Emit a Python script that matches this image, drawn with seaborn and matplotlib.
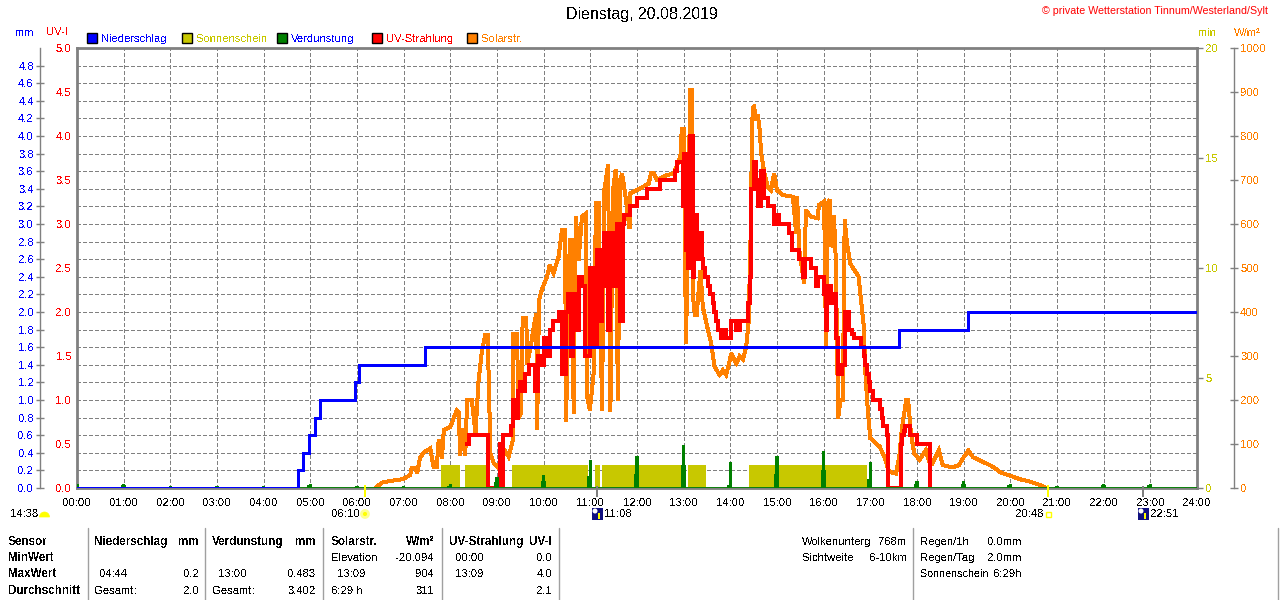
import matplotlib
matplotlib.use('Agg')
import matplotlib.pyplot as plt
from matplotlib.patches import Rectangle, Circle, Wedge
import seaborn as sns

# --- data ---
rain_t = [0, 4.74, 4.85, 4.97, 5.09, 5.2, 5.96, 6.04, 7.46, 17.62, 19.09, 24]
rain_mm = [0, 0.2, 0.4, 0.6, 0.8, 1.0, 1.2, 1.4, 1.6, 1.8, 2.0, 2.0]

sun_start = [7.79, 8.32, 9.32, 9.88, 11.09, 11.26, 13.09, 14.39]
sun_end = [8.21, 8.86, 9.87, 10.95, 11.21, 13.05, 13.48, 16.93]
sun_min = [1.05, 1.05, 1.05, 1.05, 1.05, 1.05, 1.05, 1.05]

evap_h = list(range(0, 24))
evap_mm = [0.04, 0.05, 0.02, 0.02, 0.02, 0.05, 0.02, 0.02, 0.04, 0.13, 0.15, 0.32,
           0.36, 0.483, 0.29, 0.36, 0.42, 0.29, 0.08, 0.08, 0.05, 0.02, 0.05, 0.05]
evap_low = [0.02, 0.03, 0.01, 0.01, 0.01, 0.03, 0.01, 0.01, 0.02, 0.07, 0.08, 0.14,
            0.16, 0.26, 0.03, 0.16, 0.2, 0.1, 0.04, 0.04, 0.03, 0.01, 0.03, 0.03]

uv_t = [8.36, 8.39, 8.6, 8.8, 9.07, 9.08, 9.12, 9.15, 9.3, 9.34, 9.36, 9.46, 9.5, 9.57, 9.61,
        9.68, 9.82, 9.87, 9.93, 10.0, 10.07, 10.14, 10.21, 10.32, 10.39, 10.48, 10.53, 10.59, 10.63,
        10.71, 10.75, 10.82, 10.89, 10.96, 11.0, 11.07, 11.14, 11.2, 11.25, 11.29, 11.38, 11.43, 11.5,
        11.57, 11.64, 11.7, 11.73, 11.86, 12.0, 12.21, 12.5, 12.82, 12.85, 12.94, 12.98, 13.01, 13.06,
        13.1, 13.14, 13.19, 13.23, 13.29, 13.36, 13.39, 13.42, 13.46, 13.52, 13.56, 13.62, 13.66, 13.7, 13.73,
        13.8, 13.85, 13.9,
        14.02, 14.13, 14.2, 14.34, 14.38, 14.42, 14.45, 14.5, 14.56, 14.6, 14.65, 14.73, 14.8, 14.93,
        14.98, 15.05, 15.26, 15.33, 15.48, 15.55, 15.6, 15.72, 15.83, 15.87, 16.0, 16.05, 16.08, 16.15,
        16.22, 16.26, 16.31, 16.4, 16.45, 16.55, 16.6, 16.65, 16.75, 16.8, 16.86, 16.89, 16.92, 16.97, 17.0, 17.05,
        17.2, 17.25, 17.28, 17.35, 17.38, 17.65, 17.68, 17.72, 17.75, 17.86, 18.0, 18.27]
uv_i = [0.5, 0.6, 0.6, 0, 0.5, 0, 0.6, 0.6, 0.7, 1.0, 0.8, 1.1, 1.2, 1.1, 1.3,
        1.4, 1.1, 1.5, 1.4, 1.7, 1.5, 1.8, 1.9, 2.0, 1.3, 2.0, 2.2, 1.5, 2.2,
        1.8, 2.4, 2.3, 1.5, 1.5, 2.5, 1.6, 2.7, 1.9, 2.3, 2.9, 1.8, 2.9, 2.3,
        3.0, 1.9, 3.0, 3.1, 3.2, 3.3, 3.4, 3.5, 3.6, 3.7, 3.7, 3.2, 3.8, 2.7,
        2.5, 4.0, 2.4, 3.1, 2.6, 2.9, 2.6, 2.5, 2.4, 2.3, 2.2, 2.1, 2.0, 1.9, 1.8,
        1.7, 1.8, 1.7,
        1.9, 1.8, 1.9, 1.9, 2.1, 2.4, 3.4, 3.7, 3.5, 3.2, 3.6, 3.3, 3.2, 3.0,
        3.1, 3.0, 2.9, 2.7, 2.6, 2.4, 2.6, 2.5, 2.3, 2.4, 2.2, 1.8, 2.3, 2.1,
        2.2, 1.7, 1.3, 1.4, 2.0, 1.8, 1.75, 1.7, 1.7, 1.6, 1.5, 1.4, 1.3, 1.2, 1.1, 1.0,
        0.9, 0.8, 0.7, 0.6, 0, 0.5, 0.6, 0.65, 0.7, 0.6, 0.5, 0]

solar_t = [6.39, 6.53, 6.71, 6.99, 7.14, 7.17, 7.25, 7.29, 7.35, 7.42, 7.57, 7.64, 7.71, 7.75, 7.82, 7.86, 8.0,
           8.14, 8.18, 8.21, 8.26, 8.32, 8.36, 8.46, 8.54, 8.6, 8.68, 8.75, 8.8, 8.82, 8.86, 8.93,
           9.04, 9.11, 9.25, 9.34, 9.35, 9.43, 9.46, 9.51, 9.55, 9.63, 9.64, 9.71, 9.79, 9.84, 9.86,
           9.9, 9.96, 10.07, 10.13, 10.21, 10.32, 10.39, 10.46, 10.48, 10.56, 10.63, 10.64, 10.69, 10.75,
           10.82, 10.91, 10.93, 10.99, 11.07, 11.12, 11.18, 11.25, 11.3, 11.38, 11.43, 11.48, 11.54, 11.59,
           11.64, 11.68, 11.75, 11.84, 11.86, 12.07, 12.25, 12.3, 12.36, 12.43, 12.64, 12.79, 12.93, 12.96,
           13.0, 13.05, 13.09, 13.14, 13.18, 13.2, 13.24, 13.28, 13.31, 13.36, 13.41, 13.52, 13.59, 13.66,
           13.77, 13.84, 13.91, 13.99, 14.02, 14.13, 14.2, 14.27, 14.34, 14.39, 14.43, 14.47, 14.5, 14.56,
           14.59, 14.63, 14.66, 14.73, 14.8, 14.87, 14.94, 15.0, 15.12, 15.34, 15.41, 15.43, 15.48, 15.58,
           15.62, 15.72, 15.87, 15.9, 16.01, 16.05, 16.08, 16.13, 16.15, 16.22, 16.26, 16.31, 16.36, 16.41,
           16.45, 16.5, 16.57, 16.75, 16.8, 16.86, 16.89, 16.95, 17.0, 17.2, 17.3, 17.4, 17.55, 17.62,
           17.68, 17.77, 17.81, 17.87, 17.94, 18.05, 18.19, 18.26, 18.33, 18.47, 18.55, 18.76, 18.9, 19.0,
           19.1, 19.2, 19.4, 19.6, 19.8, 20.0, 20.2, 20.4, 20.6, 20.78]
solar_w = [0, 12, 16, 20, 30, 45, 45, 34, 68, 80, 90, 48, 48, 109, 67, 132, 139,
           177, 173, 75, 135, 75, 200, 200, 124, 238, 314, 348, 348, 260, 79, 56,
           45, 94, 71, 109, 351, 351, 158, 170, 386, 386, 280, 314, 367, 397, 132,
           427, 450, 480, 507, 488, 526, 586, 586, 151, 564, 564, 170, 617, 518,
           617, 624, 208, 177, 260, 647, 647, 177, 677, 734, 173, 670, 723, 200,
           700, 715, 666, 590, 670, 681, 692, 715, 715, 700, 711, 715, 753, 817,
           817, 329, 560, 905, 905, 435, 393, 393, 435, 495, 412, 359, 329, 276,
           257, 268, 257, 291, 306, 283, 300, 292, 321, 374, 548, 836, 870, 836,
           848, 813, 760, 715, 685, 677, 715, 677, 666, 662, 579, 662, 540, 465,
           632, 617, 613, 643, 651, 321, 647, 655, 548, 620, 518, 158, 200, 200,
           609, 556, 510, 480, 427, 367, 268, 170, 113, 94, 71, 37, 33, 71,
           139, 200, 200, 124, 79, 64, 86, 60, 56, 86, 52, 47, 52, 70,
           85, 70, 60, 50, 35, 28, 20, 15, 8, 0]

hour_labels = ['%02d:00' % h for h in range(25)]
mm_ticks = [i * 0.2 for i in range(25)]
mm_labels = ['%.1f' % v for v in mm_ticks]
uv_ticks = [0, 0.5, 1, 1.5, 2, 2.5, 3, 3.5, 4, 4.5, 5]
min_ticks = [0, 5, 10, 15, 20]
w_ticks = list(range(0, 1001, 100))

BLUE = '#0000ff'
OLIVE = '#c8c800'
GREEN = '#008000'
RED = '#ff0000'
ORANGE = '#ff8000'
GRAY = '#808080'
YELLOW = '#ffff00'
FS = 8.1

sns.set_theme(style='white')
plt.rcParams['font.family'] = ['Liberation Sans', 'DejaVu Sans']
plt.rcParams['font.size'] = FS
plt.rcParams['text.antialiased'] = False
plt.rcParams['text.hinting'] = 'force_autohint'

fig = plt.figure(figsize=(12.8, 6.0), dpi=100, facecolor='white')
rect = [77 / 1280, 112 / 600, 1120 / 1280, 440 / 600]

# base axes: grid and the mm scale
ax = fig.add_axes(rect, zorder=1)
ax.set_xlim(0, 24)
ax.set_ylim(0, 5)
ax.set_xticks(range(25))
ax.set_xticklabels(hour_labels)
ax.tick_params(axis='x', length=0, pad=7, labelsize=FS, labelcolor='black')
ax.set_yticks(mm_ticks)
ax.set_yticklabels(mm_labels)
ax.tick_params(axis='y', direction='inout', length=6, width=1, color=GRAY, pad=1.5, left=True,
               labelsize=FS, labelcolor=BLUE)
ax.grid(True, color=GRAY, linestyle=(0, (3.8, 2.8)), linewidth=0.75, antialiased=False)
for s in ['top', 'right', 'bottom']:
    ax.spines[s].set_visible(False)
ax.spines['left'].set_position(('outward', 26.6))
ax.spines['left'].set_color(GRAY)
ax.spines['left'].set_linewidth(1)

# sunshine minutes
ax_sun = ax.twinx()
ax_sun.set_zorder(2)
ax_sun.set_ylim(0, 20)
ax_sun.bar(sun_start, sun_min, width=[e - s for s, e in zip(sun_start, sun_end)], align='edge',
           color=OLIVE, linewidth=0)
ax_sun.set_yticks(min_ticks)
ax_sun.tick_params(axis='y', length=4, width=1, color=GRAY, pad=2, right=True,
                   labelsize=FS, labelcolor=OLIVE)
ax_sun.grid(False)
for s in ax_sun.spines.values():
    s.set_visible(False)

# solar radiation
ax_w = ax.twinx()
ax_w.set_zorder(3)
ax_w.set_ylim(0, 1000)
sns.lineplot(x=solar_t, y=solar_w, ax=ax_w, color=ORANGE, linewidth=2.15, sort=False, estimator=None,
             legend=False, solid_joinstyle='miter', antialiased=False)
ax_w.set_ylabel('')
ax_w.set_yticks(w_ticks)
ax_w.tick_params(axis='y', direction='inout', length=6, width=1, color=GRAY, pad=1.5, right=True,
                 labelsize=FS, labelcolor=ORANGE)
ax_w.grid(False)
for s in ['top', 'left', 'bottom']:
    ax_w.spines[s].set_visible(False)
ax_w.spines['right'].set_position(('outward', 26.6))
ax_w.spines['right'].set_color(GRAY)
ax_w.spines['right'].set_linewidth(1)

# UV index
ax_uv = ax.twinx()
ax_uv.set_zorder(4)
ax_uv.set_ylim(0, 5)
sns.lineplot(x=uv_t, y=uv_i, ax=ax_uv, color=RED, linewidth=2.6, sort=False, estimator=None,
             legend=False, drawstyle='steps-post', solid_joinstyle='miter', antialiased=False)
ax_uv.set_ylabel('')
ax_uv.yaxis.tick_left()
ax_uv.set_yticks(uv_ticks)
ax_uv.set_yticklabels(['%.1f' % v for v in uv_ticks])
ax_uv.tick_params(axis='y', length=0, pad=4, labelsize=FS, labelcolor=RED)
ax_uv.grid(False)
for s in ax_uv.spines.values():
    s.set_visible(False)

# rain and evaporation on top, this axes also carries the frame
ax_top = ax.twinx()
ax_top.set_zorder(5)
ax_top.set_ylim(0, 5)
ax_top.set_yticks([])
ax_top.grid(False)
ax_top.bar(evap_h, evap_mm, width=0.07, color=GREEN, linewidth=0)
ax_top.bar([h - 0.01 for h in evap_h], evap_low, width=0.11, color=GREEN, linewidth=0)
ax_top.axhline(0, color=GREEN, linewidth=2)
sns.lineplot(x=rain_t, y=rain_mm, ax=ax_top, color=BLUE, linewidth=2.15, sort=False, estimator=None,
             legend=False, drawstyle='steps-post', solid_joinstyle='miter', antialiased=False)
ax_top.set_ylabel('')
for s in ax_top.spines.values():
    s.set_visible(True)
    s.set_color(GRAY)
    s.set_linewidth(2)
    s.set_zorder(0.5)

# overlay in pixel coordinates for legend, captions and the table
ov = fig.add_axes([0, 0, 1, 1], zorder=10)
ov.set_xlim(0, 1280)
ov.set_ylim(600, 0)
ov.axis('off')
ov.patch.set_alpha(0)


def txt(x, y, s, color='black', ha='left', weight='normal', size=FS, smooth=False):
    ov.text(x, y, s, color=color, ha=ha, va='center', fontweight=weight, fontsize=size, antialiased=smooth)


txt(642, 15, 'Dienstag, 20.08.2019', ha='center', size=11.5)
# aliased rendering drops stems at this size, so this one stays smooth
txt(1268, 11, '\u00a9 private Wetterstation Tinnum/Westerland/Sylt', color=RED, ha='right', size=7.7, smooth=True)
txt(15, 33, 'mm', color=BLUE)
txt(46, 32, 'UV-I', color=RED)
txt(1198, 33, 'min', color=OLIVE)
txt(1234, 33, 'W/m\u00b2', color=ORANGE)

legend_items = [(87, 'Niederschlag', BLUE, BLUE), (182, 'Sonnenschein', OLIVE, OLIVE),
                (277, 'Verdunstung', GREEN, BLUE), (372, 'UV-Strahlung', RED, RED),
                (467, 'Solarstr.', ORANGE, ORANGE)]
for x, name, face, col in legend_items:
    ov.add_patch(Rectangle((x, 33), 10, 10, facecolor=face, edgecolor='black', linewidth=1))
    txt(x + 14, 38.5, name, color=col)

# sun and moon times below the axis
txt(10, 514, '14:38')
ov.add_patch(Wedge((44.5, 517), 5, 180, 360, facecolor=YELLOW, edgecolor=YELLOW, linewidth=0.5))
txt(331, 514, '06:10')
ov.add_patch(Circle((365, 514), 3.5, facecolor=YELLOW, edgecolor='#ffff90', linewidth=2))
ov.add_patch(Rectangle((364, 485), 2, 12, facecolor=YELLOW, edgecolor='none'))
txt(1015, 514, '20:48')
ov.add_patch(Rectangle((1046, 512), 5, 5, facecolor='white', edgecolor=YELLOW, linewidth=1))
ov.add_patch(Rectangle((1047, 485), 2, 12, facecolor=YELLOW, edgecolor='none'))
for mx, label in [(592, '11:08'), (1138, '22:51')]:
    ov.add_patch(Rectangle((mx, 508), 11, 12, facecolor='#101080', edgecolor='none'))
    ov.add_patch(Circle((mx + 3, 511), 2.5, facecolor='white', edgecolor='none'))
    ov.add_patch(Rectangle((mx + 6, 513), 2, 6, facecolor=YELLOW, edgecolor='none'))
    ov.add_patch(Rectangle((mx + 4, 486), 2, 11, facecolor=GRAY, edgecolor='none'))
    txt(mx + 12, 514, label)

# table below the chart
for x in [88, 205, 323, 442, 559, 913, 1278]:
    ov.plot([x, x], [528, 600], color='#a0a0a0', linewidth=1)
rows = [542, 558, 574, 591]
for y, name in zip(rows, ['Sensor', 'MinWert', 'MaxWert', 'Durchschnitt']):
    txt(8, y, name, weight='bold', size=8.4)
txt(94, rows[0], 'Niederschlag', weight='bold', size=8.4)
txt(199, rows[0], 'mm', ha='right', weight='bold', size=8.4)
txt(212, rows[0], 'Verdunstung', weight='bold', size=8.4)
txt(316, rows[0], 'mm', ha='right', weight='bold', size=8.4)
txt(331, rows[0], 'Solarstr.', weight='bold', size=8.4)
txt(434, rows[0], 'W/m\u00b2', ha='right', weight='bold', size=8.4)
txt(449, rows[0], 'UV-Strahlung', weight='bold', size=8.4)
txt(552, rows[0], 'UV-I', ha='right', weight='bold', size=8.4)
txt(331, rows[1], 'Elevation')
txt(434, rows[1], '-20.094', ha='right')
txt(455, rows[1], '00:00')
txt(552, rows[1], '0.0', ha='right')
txt(100, rows[2], '04:44')
txt(199, rows[2], '0.2', ha='right')
txt(218, rows[2], '13:00')
txt(316, rows[2], '0.483', ha='right')
txt(337, rows[2], '13:09')
txt(434, rows[2], '904', ha='right')
txt(455, rows[2], '13:09')
txt(552, rows[2], '4.0', ha='right')
txt(94, rows[3], 'Gesamt:')
txt(199, rows[3], '2.0', ha='right')
txt(212, rows[3], 'Gesamt:')
txt(316, rows[3], '3.402', ha='right')
txt(331, rows[3], '6:29 h')
txt(434, rows[3], '311', ha='right')
txt(552, rows[3], '2.1', ha='right')
txt(802, rows[0], 'Wolkenunterg')
txt(907, rows[0], '768m', ha='right')
txt(802, rows[1], 'Sichtweite')
txt(907, rows[1], '6-10km', ha='right')
txt(920, rows[0], 'Regen/1h')
txt(1022, rows[0], '0.0mm', ha='right')
txt(920, rows[1], 'Regen/Tag')
txt(1022, rows[1], '2.0mm', ha='right')
txt(920, rows[2], 'Sonnenschein', size=7.7)
txt(1022, rows[2], '6:29h', ha='right')

fig.savefig('out.png', dpi=100)
